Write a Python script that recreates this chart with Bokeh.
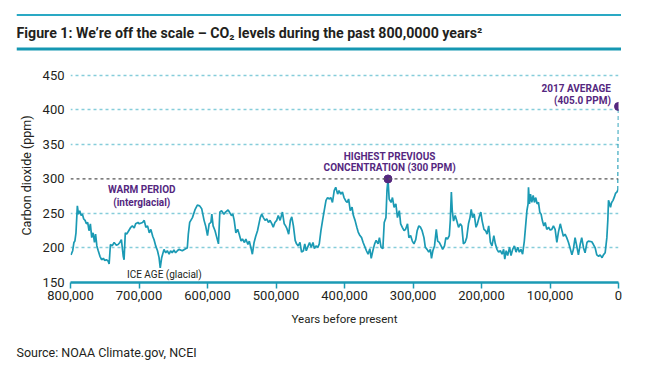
import numpy as np
from bokeh.plotting import figure
from bokeh.layouts import column, row
from bokeh.models import (Range1d, FixedTicker, NumeralTickFormatter, Span, Label,
                          ColumnDataSource, Spacer)
from bokeh.embed import file_html
from bokeh.resources import INLINE

# ---------------- data ----------------
kyr_before_present = [
    799.3, 796.8, 795.0, 793.6, 792.0, 790.0, 788.4, 786.5, 784.5, 782.6, 780.7, 778.7, 776.8, 774.9,
    773.0, 771.0, 769.0, 767.0, 765.0, 763.4, 761.5, 759.5, 757.0, 754.6, 752.0, 750.0, 747.5, 745.0,
    743.6, 741.7, 739.2, 736.3, 733.0, 730.5, 728.0, 725.7, 723.0, 721.8, 720.0, 718.0, 715.0, 712.0,
    709.7, 707.0, 704.9, 701.5, 699.6, 694.8, 692.4, 690.0, 687.5, 685.0, 682.7, 680.0, 678.0, 675.6,
    673.0, 670.7, 669.0, 666.9, 663.5, 661.0, 658.7, 656.0, 653.9, 651.5, 649.0, 646.6, 644.0, 641.7,
    636.8, 632.0, 629.5, 628.0, 626.0, 622.0, 618.0, 614.8, 611.4, 608.5, 605.0, 602.7, 600.0, 597.6,
    595.0, 593.7, 591.8, 589.0, 586.4, 584.0, 582.0, 579.5, 576.0, 573.7, 570.0, 568.0, 565.0, 563.0,
    561.0, 558.6, 556.0, 553.7, 551.0, 549.0, 546.0, 544.0, 541.0, 539.0, 536.5, 534.5, 532.0, 529.6,
    527.0, 523.0, 520.8, 518.4, 516.0, 513.5, 511.0, 508.7, 506.0, 504.0, 501.6, 499.0, 496.7, 494.0,
    490.6, 488.0, 486.0, 484.0, 481.5, 479.0, 477.0, 474.6, 472.0, 470.0, 467.6, 465.0, 462.7, 460.0,
    458.0, 455.8, 453.0, 451.0, 448.6, 446.0, 444.0, 441.6, 439.0, 436.8, 434.4, 432.0, 429.6, 427.0,
    424.7, 422.0, 420.0, 417.6, 415.0, 412.8, 410.0, 408.0, 405.5, 403.0, 400.7, 398.0, 396.0, 394.0,
    391.6, 389.0, 387.0, 384.6, 382.0, 380.0, 377.5, 375.0, 372.8, 370.0, 368.0, 365.6, 363.0, 361.0,
    358.6, 356.0, 353.8, 351.0, 349.0, 346.6, 344.0, 342.0, 339.5, 338.0, 336.5, 334.8, 332.0, 330.0,
    327.6, 325.0, 322.7, 320.0, 318.0, 315.6, 313.0, 310.8, 308.0, 306.0, 303.5, 301.0, 298.6, 296.0,
    293.9, 291.5, 289.0, 286.7, 284.0, 282.0, 279.5, 277.0, 274.7, 273.0, 271.0, 268.6, 266.0, 264.0,
    261.6, 259.0, 256.7, 254.0, 252.0, 249.6, 247.0, 245.6, 244.0, 242.7, 240.8, 238.4, 236.0, 233.5,
    231.0, 228.8, 226.4, 224.0, 221.6, 219.0, 216.8, 215.0, 213.0, 210.7, 208.0, 206.0, 203.6, 201.0,
    199.0, 196.4, 194.0, 191.9, 189.5, 187.0, 184.7, 182.0, 179.8, 177.4, 175.0, 172.5, 170.0, 167.7,
    166.0, 164.0, 161.8, 159.0, 156.9, 154.5, 152.0, 149.6, 147.0, 144.8, 142.4, 140.0, 137.5, 135.0,
    133.7, 132.0, 131.4, 130.0, 128.5, 126.6, 124.6, 122.7, 120.8, 118.8, 116.8, 114.9, 113.0, 111.0,
    109.0, 107.0, 104.7, 102.0, 99.8, 97.4, 95.0, 92.5, 90.0, 87.7, 85.0, 83.0, 80.5, 78.0,
    75.6, 73.0, 70.7, 68.0, 65.9, 63.4, 61.0, 58.5, 56.0, 53.7, 51.0, 48.8, 46.0, 43.9,
    39.0, 36.6, 34.0, 31.7, 29.0, 26.8, 24.0, 22.0, 19.5, 17.0, 15.6, 14.6, 13.0, 11.7,
    10.0, 8.0, 6.0, 4.4, 2.4, 0.8,
]
co2_ppm = [
    190, 196, 208, 210, 222, 261, 249, 254, 247, 249, 242, 240, 235, 237,
    225, 235, 215, 222, 208, 220, 203, 196, 188, 183, 185, 182, 183, 181,
    177, 205, 203, 208, 204, 205, 208, 212, 188, 183, 222, 220, 225, 230,
    232, 229, 235, 237, 235, 237, 240, 230, 232, 222, 227, 217, 212, 203,
    196, 186, 171, 186, 198, 193, 196, 191, 196, 193, 197, 193, 196, 198,
    196, 199, 200, 220, 237, 244, 256, 262, 261, 257, 240, 232, 218, 235,
    237, 249, 232, 225, 215, 206, 252, 254, 249, 252, 255, 252, 247, 249,
    240, 222, 227, 220, 210, 213, 208, 213, 205, 210, 200, 191, 208, 217,
    225, 244, 249, 244, 240, 242, 237, 240, 235, 230, 237, 240, 247, 240,
    252, 235, 232, 228, 220, 240, 245, 232, 211, 206, 203, 208, 194, 196,
    206, 196, 203, 208, 201, 208, 199, 203, 201, 206, 225, 240, 254, 269,
    273, 271, 273, 266, 283, 288, 278, 283, 278, 281, 273, 268, 266, 271,
    254, 259, 247, 240, 230, 223, 218, 215, 208, 201, 196, 191, 199, 185,
    196, 206, 211, 206, 215, 201, 199, 237, 244, 283, 300, 271, 266, 273,
    259, 264, 244, 254, 235, 230, 225, 227, 235, 215, 218, 210, 206, 212,
    225, 232, 230, 225, 215, 201, 198, 194, 198, 185, 196, 203, 227, 210,
    208, 203, 198, 203, 215, 213, 218, 239, 281, 254, 239, 247, 239, 230,
    235, 232, 206, 208, 215, 235, 244, 256, 244, 249, 230, 235, 244, 252,
    239, 227, 225, 220, 232, 208, 203, 218, 206, 198, 194, 196, 191, 198,
    184, 196, 189, 201, 189, 198, 203, 194, 201, 194, 198, 191, 210, 239,
    254, 264, 288, 264, 278, 266, 276, 266, 273, 264, 266, 252, 249, 239,
    232, 237, 227, 230, 226, 227, 232, 227, 208, 223, 235, 227, 217, 220,
    215, 208, 200, 190, 198, 215, 203, 190, 205, 215, 200, 193, 208, 210,
    209, 205, 200, 190, 188, 190, 186, 190, 193, 215, 240, 269, 264, 259,
    266, 269, 274, 279, 281, 284,
]
peak_kyr, peak_ppm = 336.5, 300          # highest previous concentration
avg2017_kyr, avg2017_ppm = 0.0, 405.0    # 2017 average
x_ticks = [800000, 700000, 600000, 500000, 400000, 300000, 200000, 100000, 0]
y_ticks = [150, 200, 250, 300, 350, 400, 450]
grid_levels = [200, 250, 350, 400, 450]
ref_level = 300

title_text = "Figure 1: We\u2019re off the scale \u2013 CO\u2082 levels during the past 800,0000 years\u00b2"
source_text = "Source: NOAA Climate.gov, NCEI"

years = np.array(kyr_before_present) * 1000.0

# ---------------- style ----------------
TEAL = "#1b9ab4"
GRID = "#86cdda"
PURPLE = "#55287f"
DARK = "#231f20"
FONT = "Roboto"
W = 664
INDENT = 16
BAND_W = 605   # header band width (16 .. 621 px)


def band_fig(w, h):
    f = figure(width=w, height=h, output_backend="svg", toolbar_location=None,
               x_range=Range1d(0, w), y_range=Range1d(h, 0), min_border=0,
               x_axis_location=None, y_axis_location=None, frame_align=False,
               background_fill_color="white", border_fill_color="white")
    f.grid.visible = False
    f.outline_line_color = None
    return f


# ---------------- header: rules + title ----------------
HT = 53
head = band_fig(BAND_W, HT)
head.add_layout(Span(location=14.5, dimension="width", line_color="#2aa9c4", line_width=2))
head.add_layout(Span(location=48.5, dimension="width", line_color="#1597b2", line_width=3))
head.add_layout(Label(x=0, y=32, text=title_text, text_font=FONT, text_font_size="14.2px",
                      text_font_style="bold", text_color=DARK, text_baseline="middle"))
header = row(Spacer(width=INDENT, height=HT), head, spacing=0)

# ---------------- main chart ----------------
HM = 285
p = figure(width=W, height=HM, output_backend="svg", toolbar_location=None,
           x_range=Range1d(800000, 0), y_range=Range1d(150, 460), frame_align=False,
           min_border_left=70, min_border_right=46, min_border_top=15, min_border_bottom=56,
           background_fill_color="white", border_fill_color="white")
p.outline_line_color = None

p.xgrid.grid_line_color = None
p.ygrid.ticker = FixedTicker(ticks=grid_levels)
p.ygrid.grid_line_color = GRID
p.ygrid.grid_line_dash = "3 3"
p.ygrid.grid_line_width = 1.3
p.add_layout(Span(location=ref_level, dimension="width", line_color="#555555",
                  line_dash="3 3", line_width=1.2))

p.xaxis.ticker = FixedTicker(ticks=x_ticks)
p.xaxis.formatter = NumeralTickFormatter(format="0,0")
p.xaxis.axis_line_color = TEAL
p.xaxis.axis_line_width = 2.5
p.xaxis.major_tick_line_color = TEAL
p.xaxis.major_tick_line_width = 1.5
p.xaxis.major_tick_out = 6
p.xaxis.major_tick_in = 0
p.xaxis.minor_tick_line_color = None
p.xaxis.major_label_standoff = 2
p.xaxis.major_label_text_font = FONT
p.xaxis.major_label_text_font_size = "13px"
p.xaxis.major_label_text_color = DARK
p.xaxis.axis_label = "Years before present"
p.xaxis.axis_label_text_font = FONT
p.xaxis.axis_label_text_font_size = "11.5px"
p.xaxis.axis_label_text_font_style = "normal"
p.xaxis.axis_label_text_color = DARK
p.xaxis.axis_label_standoff = 9

p.yaxis.ticker = FixedTicker(ticks=y_ticks)
p.yaxis.axis_line_color = None
p.yaxis.major_tick_line_color = None
p.yaxis.minor_tick_line_color = None
p.yaxis.major_tick_out = 0
p.yaxis.major_tick_in = 0
p.yaxis.major_label_standoff = 6
p.yaxis.major_label_text_font = FONT
p.yaxis.major_label_text_font_size = "13px"
p.yaxis.major_label_text_color = DARK
p.yaxis.axis_label = "Carbon dioxide (ppm)"
p.yaxis.axis_label_text_font = FONT
p.yaxis.axis_label_text_font_size = "12.5px"
p.yaxis.axis_label_text_font_style = "normal"
p.yaxis.axis_label_text_color = DARK
p.yaxis.axis_label_standoff = 6

src = ColumnDataSource(dict(x=years, y=co2_ppm))
p.line("x", "y", source=src, line_color=TEAL, line_width=1.7)
p.segment(x0=[years[-1]], y0=[co2_ppm[-1]], x1=[avg2017_kyr * 1000], y1=[avg2017_ppm],
          line_color=TEAL, line_width=1.5, line_dash="4 3")
p.scatter(x=[peak_kyr * 1000, avg2017_kyr * 1000], y=[peak_ppm, avg2017_ppm],
          size=8, color=PURPLE)


def dlabel(x, y, text, color=PURPLE, bold=True, align="center", size="10px"):
    p.add_layout(Label(x=x, y=y, text=text, text_font=FONT, text_font_size=size,
                       text_font_style="bold" if bold else "normal", text_color=color,
                       text_align=align, text_baseline="middle"))


dlabel(696000, 284, "WARM PERIOD")
dlabel(696000, 266, "(interglacial)")
dlabel(663000, 162, "ICE AGE (glacial)", color=DARK, bold=False)
dlabel(334000, 333, "HIGHEST PREVIOUS")
dlabel(334000, 316, "CONCENTRATION (300 PPM)")
dlabel(11000, 431.5, "2017 AVERAGE", align="right")
dlabel(11000, 413.5, "(405.0 PPM)", align="right")

# ---------------- footer: source ----------------
HF = 41
foot = band_fig(W, HF)
foot.add_layout(Label(x=INDENT, y=14, text=source_text, text_font=FONT, text_font_size="12.5px",
                      text_color=DARK, text_baseline="middle"))

layout = column(header, p, foot, spacing=0)
open("out.html", "w").write(file_html(layout, INLINE))
